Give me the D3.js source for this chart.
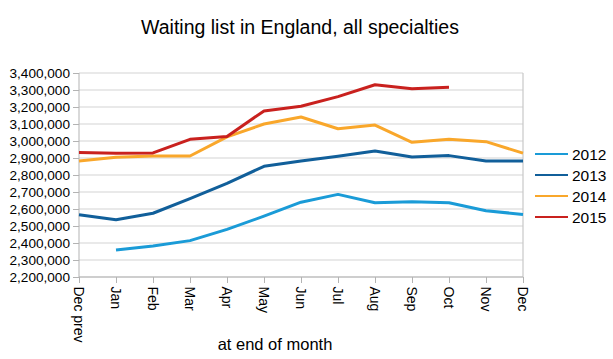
<!DOCTYPE html>
<html><head><meta charset="utf-8">
<script src="https://cdn.jsdelivr.net/npm/d3@7"></script>
<style>body{margin:0;background:#fff}svg{display:block;font-family:"Liberation Sans",Arial,sans-serif}</style>
</head><body><svg id="c" width="613" height="359"></svg>
<script>
const months = ["Dec prev","Jan","Feb","Mar","Apr","May","Jun","Jul","Aug","Sep","Oct","Nov","Dec"];
const yTicks = [2200000,2300000,2400000,2500000,2600000,2700000,2800000,2900000,3000000,3100000,3200000,3300000,3400000];
const seriesNames = ["2012","2013","2014","2015"];
const seriesColors = ["#1a9bd7","#115f9a","#f9a72b","#c9211e"];
const v2012 = [null,2359000,2382000,2414000,2480000,2558000,2640000,2686000,2637000,2642000,2637000,2590000,2568000];
const v2013 = [2566000,2537000,2575000,2661000,2751000,2851000,2882000,2910000,2941000,2906000,2914000,2882000,2882000];
const v2014 = [2882000,2905000,2912000,2912000,3024000,3100000,3141000,3072000,3094000,2992000,3010000,2996000,2929000];
const v2015 = [2932000,2928000,2930000,3010000,3027000,3177000,3204000,3261000,3331000,3308000,3316000,null,null];
const allSeries = [v2012,v2013,v2014,v2015];

const svg = d3.select("#c");
const x = d3.scalePoint().domain(months).range([79,523]);
const y = d3.scaleLinear().domain([2200000,3400000]).range([277,73]);
const fmt = d3.format(",");

svg.append("text").attr("x",300).attr("y",34).attr("text-anchor","middle")
  .attr("font-size",19.5).attr("fill","#000").text("Waiting list in England, all specialties");

// gridlines
svg.append("g").selectAll("line").data(yTicks).join("line")
  .attr("x1",79).attr("x2",523).attr("y1",d=>y(d)).attr("y2",d=>y(d))
  .attr("stroke","#d4d4d4").attr("stroke-width",1.2);

// y axis
const ya = svg.append("g").attr("transform","translate(79,0)")
  .call(d3.axisLeft(y).tickValues(yTicks).tickFormat(fmt).tickSize(6).tickPadding(3));
ya.select(".domain").attr("stroke","#b3b3b3").attr("d","M0,73V277");
ya.selectAll(".tick line").attr("stroke","#b3b3b3");
ya.selectAll("text").attr("font-size",13.6).attr("fill","#000").attr("font-family","Liberation Sans, Arial, sans-serif");

// right border
svg.append("line").attr("x1",523).attr("x2",523).attr("y1",73).attr("y2",277).attr("stroke","#c8c8c8").attr("stroke-width",1.2);

// x axis
const xa = svg.append("g").attr("transform","translate(0,277)")
  .call(d3.axisBottom(x).tickSize(6).tickPadding(0));
xa.select(".domain").attr("stroke","#b3b3b3").attr("d","M79,0H523");
xa.selectAll(".tick line").attr("stroke","#b3b3b3");
xa.selectAll("text").attr("font-size",14).attr("fill","#000").attr("font-family","Liberation Sans, Arial, sans-serif")
  .attr("text-anchor","start").attr("dy",0).attr("y",0)
  .attr("transform","translate(-5.5,9.5) rotate(90)");

svg.append("text").attr("x",275).attr("y",350).attr("text-anchor","middle")
  .attr("font-size",16.5).attr("fill","#000").text("at end of month");

// lines
const line = d3.line().defined(d=>d.v!=null).x(d=>x(d.m)).y(d=>y(d.v));
allSeries.forEach((vals,i)=>{
  svg.append("path").datum(vals.map((v,j)=>({m:months[j],v})))
    .attr("fill","none").attr("stroke",seriesColors[i]).attr("stroke-width",3)
    .attr("stroke-linejoin","round").attr("d",line);
});

// legend
const lg = svg.append("g");
seriesNames.forEach((n,i)=>{
  const yy = 154 + i*21;
  lg.append("line").attr("x1",535).attr("x2",568).attr("y1",yy).attr("y2",yy)
    .attr("stroke",seriesColors[i]).attr("stroke-width",2);
  lg.append("text").attr("x",572).attr("y",yy+5.5).attr("font-size",15.5).attr("fill","#000").text(n);
});
</script></body></html>
